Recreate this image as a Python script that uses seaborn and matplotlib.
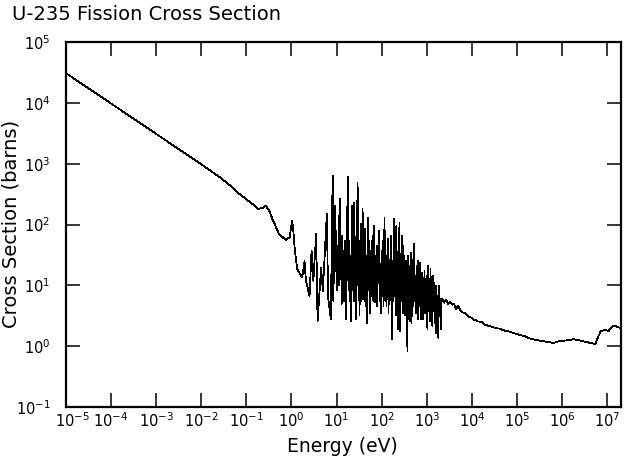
import numpy as np
import pandas as pd
import seaborn as sns
import matplotlib
matplotlib.use("Agg")
import matplotlib.pyplot as plt
from matplotlib.transforms import ScaledTranslation

# axis ticks (decades)
x_ticks = [1e-5, 1e-4, 1e-3, 1e-2, 1e-1, 1e0, 1e1, 1e2, 1e3, 1e4, 1e5, 1e6, 1e7]
y_ticks = [1e-1, 1e0, 1e1, 1e2, 1e3, 1e4, 1e5]

# thermal / low-energy part (1/v region and first resonances)
energy_thermal = [1e-5, 1e-4, 1e-3, 1e-2, 0.025, 0.045, 0.069, 0.0975, 0.137, 0.185,
                  0.23, 0.269, 0.32, 0.377, 0.53, 0.744, 0.912, 1.04, 1.10, 1.19,
                  1.34, 1.73, 1.95, 2.09, 2.52, 2.79, 3.06, 3.53, 3.79, 4.55,
                  4.96, 6.08, 6.49, 7.45]
xs_thermal = [3.1e4, 9.8e3, 3.1e3, 9.8e2, 610, 430, 323, 264, 218, 181,
              188, 205, 170, 124, 70, 56, 61.5, 116, 79, 37,
              18.5, 13.5, 25, 11.9, 6.7, 37, 11.9, 70, 2.6, 19.7,
              8.1, 150, 6.3, 2.8]

# resolved resonance region
energy_resonance = [8.18, 8.48, 8.74, 9.01, 9.29, 9.58, 9.87, 10.2, 10.5, 10.8,
                    11.2, 11.5, 11.9, 12.2, 12.6, 13.0, 13.4, 13.8, 14.2, 14.7,
                    15.1, 15.6, 16.2, 16.9, 17.6, 18.2, 18.8, 19.3, 19.9, 20.9,
                    22.0, 22.8, 23.5, 24.2, 24.7, 25.7, 26.9, 28.0, 29.2, 30.3,
                    31.2, 32.2, 33.2, 34.4, 35.6, 37.7, 39.0, 40.2, 41.5, 42.8,
                    44.3, 45.9, 47.8, 49.8, 51.6, 53.5, 55.7, 58.0, 60.1, 62.3,
                    64.9, 67.3, 69.7, 71.9, 74.5, 77.2, 79.5, 82.8, 86.7, 89.9,
                    92.7, 95.5, 99.0, 102.6, 105.8, 109.6, 115.3, 119.5, 123.2, 127.7,
                    132.3, 136.4, 141.4, 146.5, 151.0, 156.5, 162.2, 167.2, 170.6, 176.0,
                    179.6, 186.1, 192.8, 198.8, 204.9, 211.3, 217.8, 228.0, 236.3, 247.4,
                    253.8, 263.0, 272.6, 281.0, 291.2, 301.8, 311.1, 320.7, 330.6, 342.6,
                    353.2, 371.7, 381.3, 393.2, 405.4, 417.9, 430.9, 442.0, 458.0, 472.1,
                    486.8, 501.9, 522.7, 538.9, 555.6, 572.8, 590.6, 608.8, 627.7, 647.1,
                    667.2, 688.0, 709.2, 731.3, 757.8, 785.2, 809.6, 834.6, 860.5, 887.3,
                    914.7, 943.2, 972.3, 1002, 1028, 1066, 1099, 1133, 1168, 1204,
                    1241, 1280, 1320, 1360, 1403, 1446, 1491, 1537, 1577, 1626,
                    1676, 1728, 1800, 1856, 1913, 1972, 2034, 2097, 2206]
xs_resonance = [641, 5.6, 37, 11.0, 206, 17.4, 80, 8.2, 45, 11.9,
                141, 9.9, 268, 17.4, 25.5, 5.0, 66, 8.2, 37, 5.6,
                54, 9.9, 2.8, 25.5, 618, 11.9, 54, 5.6, 31, 2.6,
                206, 8.2, 45, 5.6, 230, 9.9, 2.8, 37, 492, 9.9,
                54, 3.2, 25.5, 104, 5.6, 183, 6.0, 45, 5.6, 86,
                4.6, 31, 2.4, 130, 8.2, 54, 3.5, 37, 6.7, 66,
                5.6, 96, 5.2, 31, 8.2, 45, 4.6, 25.5, 80, 5.6,
                21, 3.5, 37, 6.7, 54, 4.6, 130, 5.6, 31, 4.6,
                23.6, 59, 3.5, 25.5, 5.6, 37, 66, 8.2, 1.32, 25.5,
                5.6, 125, 6.7, 17.4, 3.2, 96, 8.2, 1.93, 17.4, 108,
                1.79, 21, 5.6, 66, 3.5, 45, 5.6, 31, 3.2, 25.5,
                8.2, 0.84, 31, 5.6, 21, 2.6, 14.4, 34.5, 2.4, 17.4,
                4.6, 25.5, 49, 5.6, 14.4, 3.5, 21, 5.6, 25.5, 2.8,
                14.4, 4.6, 23.6, 2.8, 12.9, 16.2, 2.8, 11.9, 5.6, 17.4,
                3.5, 9.9, 4.6, 14.4, 1.93, 21, 3.8, 11.9, 2.6, 18.8,
                4.6, 9.9, 2.16, 14.4, 3.8, 11.0, 2.4, 8.2, 1.66, 9.9,
                2.6, 6.7, 1.37, 9.9, 3.2, 5.6, 1.93, 6.0, 6.0]

# unresolved / fast region
energy_fast = [2405, 2663, 2949, 3265, 3672, 4002, 4430, 4906, 5431, 6105,
               7005, 7757, 8590, 1.0e4, 1.107e4, 1.225e4, 1.3e4, 1.428e4, 1.664e4, 1.938e4,
               2.375e4, 2.767e4, 3.224e4, 3.95e4, 5.1e4, 6.57e4, 9.24e4, 1.15e5, 1.54e5, 1.91e5,
               2.56e5, 4.26e5, 6.49e5, 8.37e5, 1.18e6, 1.80e6, 2.74e6, 4.20e6, 5.42e6, 5.88e6,
               7.2e6, 9.0e6, 1.07e7, 1.26e7, 1.50e7, 1.77e7, 2.0e7]
xs_fast = [5.2, 5.8, 5.0, 5.4, 4.8, 5.0, 4.1, 4.6, 4.0, 3.6,
           3.5, 3.2, 3.04, 2.93, 2.71, 2.75, 2.55, 2.54, 2.47, 2.24,
           2.16, 2.08, 2.0, 1.95, 1.82, 1.74, 1.61, 1.53, 1.44, 1.34,
           1.27, 1.19, 1.13, 1.21, 1.24, 1.30, 1.22, 1.13, 1.08, 1.30,
           1.79, 1.84, 1.79, 2.10, 2.16, 2.03, 2.0]

df = pd.DataFrame({
    "energy": energy_thermal + energy_resonance + energy_fast,
    "xs": xs_thermal + xs_resonance + xs_fast,
})

sns.set_style("ticks")
plt.rcParams["font.family"] = ["DejaVu Sans"]
plt.rcParams["text.color"] = "black"
plt.rcParams["axes.labelcolor"] = "black"

fig = plt.figure(figsize=(6.25, 4.62), dpi=100)
ax = fig.add_axes([0.1052, 0.1190, 0.8884, 0.7900])

sns.lineplot(data=df, x="energy", y="xs", color="black", lw=0.55,
             estimator=None, sort=False, antialiased=False, ax=ax)

ax.set_xscale("log")
ax.set_yscale("log")
ax.set_xlim(1e-5, 2e7)
ax.set_ylim(1e-1, 1e5)
ax.set_xticks(x_ticks)
ax.set_yticks(y_ticks)
ax.minorticks_off()

ax.tick_params(which="major", direction="in", length=10, width=1.1,
               top=True, right=True, labelsize=10.5, colors="black")
ax.tick_params(axis="x", pad=3)
ax.tick_params(axis="y", pad=11)
for s in ax.spines.values():
    s.set_linewidth(1.6)
    s.set_color("black")

# first x label is nudged right of its tick, as in the original
lab = ax.xaxis.get_major_ticks(len(x_ticks))[0].label1
lab.set_transform(lab.get_transform() + ScaledTranslation(0.07, 0, fig.dpi_scale_trans))

ax.set_xlabel("")
ax.set_ylabel("")
fig.text(12 / 625, 1 - 5 / 462, "U-235 Fission Cross Section",
         ha="left", va="top", fontsize=14)
fig.text(342 / 625, 1 - 447 / 462, "Energy (eV)", ha="center", va="center",
         fontsize=13.5)
fig.text(11 / 625, 1 - 224 / 462, "Cross Section (barns)", ha="center",
         va="center", rotation=90, fontsize=14)

fig.savefig("out.png", dpi=100)
